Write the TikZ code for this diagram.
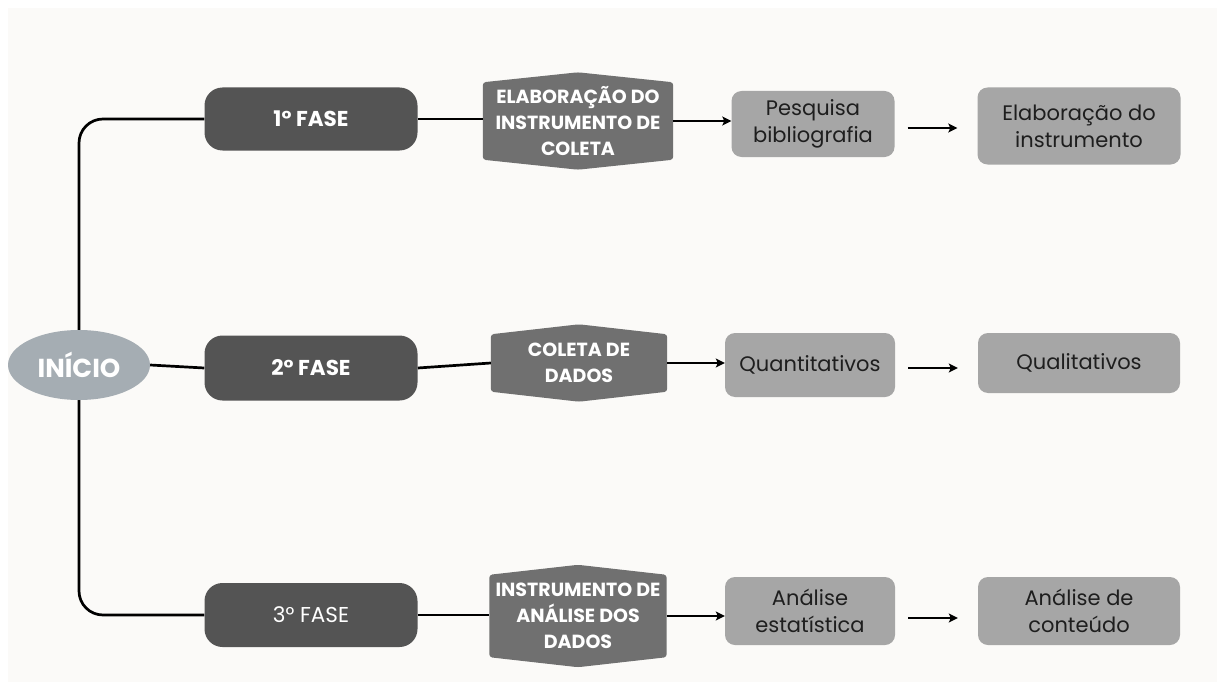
\documentclass[tikz,border=0pt]{standalone}
\usepackage{fontspec}
\setmainfont{Poppins}
\usetikzlibrary{backgrounds,arrows.meta,shapes.geometric,calc}

\definecolor{paper}{HTML}{FBFAF8}
\definecolor{phasefill}{HTML}{545454}
\definecolor{stagefill}{HTML}{707070}
\definecolor{taskfill}{HTML}{A6A6A6}
\definecolor{startfill}{HTML}{A5ADB3}
\definecolor{ink}{HTML}{1E1E1E}

% stage boxes: flat sides with a shallow point at top and bottom
\newcommand\stageshape[2]{%
  \fill[stagefill, rounded corners=3pt]
    (#1.north west) -- ($(#1.north)+(0,-#2)$) -- (#1.north east)
    -- (#1.south east) -- ($(#1.south)+(0,#2)$) -- (#1.south west) -- cycle;}

\tikzset{
  startnode/.style={ellipse, fill=startfill, text=white, minimum width=142pt,
    minimum height=70pt, inner sep=0pt, font=\bfseries\fontsize{26}{30}\selectfont},
  phasebox/.style={rectangle, rounded corners=18pt, fill=phasefill, text=white,
    minimum width=213pt, minimum height=63pt, inner sep=0pt,
    font=\bfseries\fontsize{21.5}{25}\selectfont},
  phaselight/.style={phasebox, font=\fontsize{21.5}{25}\selectfont},
  stagebox/.style={rectangle, text=white, align=center, inner sep=0pt,
    font=\bfseries\fontsize{19}{26}\selectfont},
  taskbox/.style={rectangle, rounded corners=10pt, fill=taskfill, text=ink,
    align=center, inner sep=0pt, font=\fontsize{21}{27}\selectfont},
  conn/.style={line width=2.7pt, black},
  arr/.style={conn, -{Stealth[length=9pt,width=9pt,inset=2pt]}},
}

\begin{document}
\begin{tikzpicture}[x=1pt, y=-1pt]
\useasboundingbox (0,0) rectangle (1217,682);

% start and phases
\node[startnode] (start) at (79,365) {INÍCIO};
\node[phasebox] (f1) at (311,119) {1° FASE};
\node[phasebox, minimum height=65pt] (f2) at (311,368) {2° FASE};
\node[phaselight, minimum height=64pt] (f3) at (311,615) {3° FASE};

% stages
\node[stagebox, minimum width=190pt, minimum height=77pt] (h1) at (578,121)
  {ELABORAÇÃO DO\\INSTRUMENTO DE\\COLETA};
\node[stagebox, minimum width=176pt, minimum height=57pt] (h2) at (579,363)
  {COLETA DE\\DADOS};
\node[stagebox, minimum width=177pt, minimum height=82pt] (h3) at (578,616)
  {INSTRUMENTO DE\\ANÁLISE DOS\\DADOS};

% tasks
\node[taskbox, minimum width=163pt, minimum height=66pt] (p1) at (813,124)
  {Pesquisa\\bibliografia};
\node[taskbox, minimum width=170pt, minimum height=64pt] (p2) at (810,365)
  {Quantitativos};
\node[taskbox, minimum width=170pt, minimum height=68pt] (p3) at (810,611)
  {Análise\\estatística};
\node[taskbox, minimum width=203pt, minimum height=77pt] (q1) at (1079,126)
  {Elaboração do\\instrumento};
\node[taskbox, minimum width=202pt, minimum height=60pt] (q2) at (1079,363)
  {Qualitativos};
\node[taskbox, minimum width=202pt, minimum height=68pt] (q3) at (1079,611)
  {Análise de\\conteúdo};

\begin{scope}[on background layer]
  \fill[white] (0,0) rectangle (1217,682);
  \fill[paper] (8,8) rectangle (1217,682);
  \stageshape{h1}{10}
  \stageshape{h2}{10}
  \stageshape{h3}{10}
  % trunk from the start node to the phases
  \draw[conn, rounded corners=24pt] (f1.west) -| (start.north);
  \draw[conn, rounded corners=24pt] (f3.west) -| (start.south);
  \draw[conn] (start.east) -- (f2.west);
  % phases to stages
  \draw[conn] (f1.east) -- (f1.east -| h1.west);
  \draw[conn] (f2.east) -- (h2.west);
  \draw[conn] (f3.east) -- (f3.east -| h3.west);
\end{scope}

% stages to tasks
\draw[arr] (h1.east) -- (h1.east -| p1.west);
\draw[arr] (h2.east) -- (h2.east -| p2.west);
\draw[arr] (h3.east) -- (h3.east -| p3.west);

% tasks to follow-up tasks
\draw[arr, shorten <=13pt, shorten >=20pt] ($(p1.east)+(0,4)$) -- ($(q1.west)+(0,2)$);
\draw[arr, shorten <=13pt, shorten >=20pt] ($(p2.east)+(0,3)$) -- ($(q2.west)+(0,5)$);
\draw[arr, shorten <=13pt, shorten >=20pt] ($(p3.east)+(0,7)$) -- ($(q3.west)+(0,7)$);
\end{tikzpicture}
\end{document}
